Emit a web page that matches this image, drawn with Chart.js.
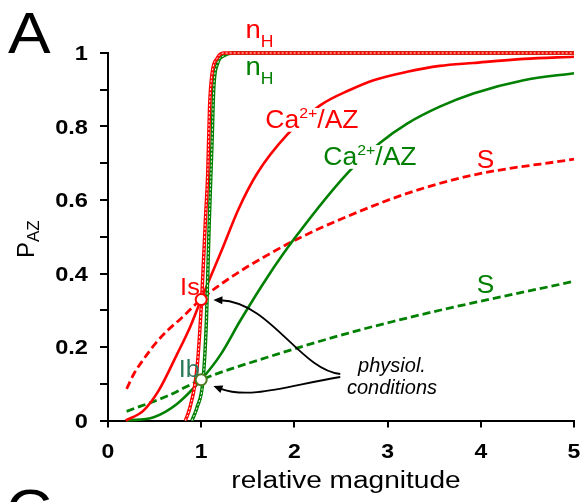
<!DOCTYPE html>
<html>
<head>
<meta charset="utf-8">
<script src="https://cdn.jsdelivr.net/npm/chart.js@4.4.0/dist/chart.umd.min.js"></script>
<style>
  html, body { margin: 0; padding: 0; background: #fff; }
  #wrap { width: 582px; height: 502px; position: relative; }
</style>
</head>
<body>
<div id="wrap"><canvas id="pazChart"></canvas></div>
<script>
// values, [relative magnitude, P_AZ]
const redNH = [[0.83, 0], [0.88, 0.036], [0.956, 0.145], [1.005, 0.33], [1.045, 0.545], [1.07, 0.672],
  [1.09, 0.854], [1.117, 0.945], [1.17, 0.985], [1.24, 1], [5, 1]];
const greenNH = [[0.9, 0], [0.956, 0.036], [1.02, 0.111], [1.056, 0.272], [1.085, 0.53], [1.117, 0.763],
  [1.134, 0.9], [1.177, 0.972], [1.24, 0.992], [1.33, 1], [5, 1]];
const redCa = [[0.19, 0], [0.38, 0.027], [0.545, 0.082], [0.74, 0.18], [0.88, 0.254], [1.0, 0.33],
  [1.22, 0.463], [1.4, 0.575], [1.6, 0.672], [1.92, 0.777], [2.28, 0.858], [2.6, 0.9], [2.85, 0.926],
  [3.21, 0.949], [3.56, 0.965], [3.92, 0.973], [4.46, 0.984], [5, 0.99]];
const greenCa = [[0.2, 0], [0.49, 0.009], [0.74, 0.045], [1.0, 0.111], [1.21, 0.18], [1.42, 0.272],
  [1.71, 0.39], [2.0, 0.495], [2.58, 0.676], [2.92, 0.756], [3.21, 0.808], [3.56, 0.854], [3.92, 0.89],
  [4.46, 0.926], [5, 0.945]];
const redS = [[0.2, 0.086], [0.28, 0.128], [0.38, 0.166], [0.51, 0.21], [0.63, 0.243], [0.78, 0.277],
  [1.0, 0.33], [1.35, 0.395], [1.71, 0.45], [2.0, 0.49], [2.49, 0.547], [3.21, 0.618], [3.92, 0.668], [5, 0.711]];
const greenS = [[0.2, 0.025], [0.63, 0.066], [1.0, 0.111], [1.71, 0.172], [2.58, 0.238], [3.1, 0.272],
  [3.56, 0.3], [4.97, 0.377]];
const isPoint = [[1.0, 0.329]];
const ibPoint = [[1.0, 0.111]];

const xTickValues = [0, 1, 2, 3, 4, 5];
const xTickLabels = ["0", "1", "2", "3", "4", "5"];
const yTickValues = [0, 0.2, 0.4, 0.6, 0.8, 1];
const yTickLabels = ["0", "0.2", "0.4", "0.6", "0.8", "1"];

const RED = "#ff0000";
const GREEN = "#008000";
const FONT = "'Liberation Sans', Arial, sans-serif";

const pts = (arr) => arr.map((p) => ({ x: p[0], y: p[1] }));

function curve(arr, color, width, dash) {
  return {
    data: pts(arr),
    borderColor: color,
    borderWidth: width,
    borderDash: dash || [],
    pointRadius: 0,
    cubicInterpolationMode: "monotone",
    fill: false,
    clip: false,
  };
}

function marker(arr, border) {
  return {
    data: pts(arr),
    showLine: false,
    pointRadius: 5.5,
    pointBackgroundColor: "#fff",
    pointBorderColor: border,
    pointBorderWidth: 2,
    clip: false,
  };
}

// text with optional horizontal stretch; parts = [{t, size, dy, style}]
function drawRich(ctx, parts, x, y, color, sx, align, knockout) {
  ctx.save();
  ctx.textBaseline = "alphabetic";
  ctx.translate(x, y);
  ctx.scale(sx || 1, 1);
  let total = 0;
  let maxSize = 0;
  parts.forEach((p) => {
    ctx.font = (p.style || "") + " " + p.size + "px " + FONT;
    total += ctx.measureText(p.t).width;
    maxSize = Math.max(maxSize, p.size);
  });
  let cx = 0;
  if (align === "center") cx = -total / 2;
  else if (align === "right") cx = -total;
  if (knockout) {
    ctx.fillStyle = "#fff";
    ctx.fillRect(cx - 2, -maxSize * 0.8, total + 4, maxSize * 0.95);
  }
  ctx.fillStyle = color;
  parts.forEach((p) => {
    ctx.font = (p.style || "") + " " + p.size + "px " + FONT;
    ctx.fillText(p.t, cx, p.dy || 0);
    cx += ctx.measureText(p.t).width;
  });
  ctx.restore();
}

const arrows = [
  [[2.492, 0.1265], [2.063, 0.1374], [1.742, 0.3224], [1.131, 0.3279]],
  [[2.492, 0.1184], [1.956, 0.0966], [1.527, 0.0558], [1.131, 0.0939]],
];

const annotations = {
  id: "annotations",
  afterDraw(chart) {
    const ctx = chart.ctx;
    const xs = chart.scales.x;
    const ys = chart.scales.y;
    const X = (v) => xs.getPixelForValue(v);
    const Y = (v) => ys.getPixelForValue(v);

    // tick labels
    xTickValues.forEach((v, i) => {
      drawRich(ctx, [{ t: xTickLabels[i], size: 20, style: "bold" }], X(v), ys.bottom + 37, "#000", 1.15, "center");
    });
    yTickValues.forEach((v, i) => {
      drawRich(ctx, [{ t: yTickLabels[i], size: 20, style: "bold" }], xs.left - 20, Y(v) + 7, "#000", 1.18, "right");
    });

    // axis titles
    drawRich(ctx, [{ t: "relative magnitude", size: 23 }], (xs.left + xs.right) / 2 + 5, ys.bottom + 67.5, "#000", 1.22, "center");
    ctx.save();
    ctx.translate(34, 258);
    ctx.rotate(-Math.PI / 2);
    drawRich(ctx, [{ t: "P", size: 24 }, { t: "AZ", size: 17, dy: 5 }], 0, 0, "#000", 1, "left");
    ctx.restore();

    // panel letters
    drawRich(ctx, [{ t: "A", size: 57 }], 8, 53, "#000", 1.12, "left");
    drawRich(ctx, [{ t: "C", size: 57 }], 6, 530, "#000", 1.12, "left");

    // curve labels
    drawRich(ctx, [{ t: "n", size: 25 }, { t: "H", size: 16, dy: 9 }], X(1.474), Y(1.042), RED, 1.1, "left");
    drawRich(ctx, [{ t: "n", size: 25 }, { t: "H", size: 16, dy: 9 }], X(1.474), Y(0.94), GREEN, 1.1, "left");
    drawRich(ctx, [{ t: "Ca", size: 25 }, { t: "2+", size: 15, dy: -10 }, { t: "/AZ", size: 25 }], X(1.688), Y(0.796), RED, 1.06, "left", true);
    drawRich(ctx, [{ t: "Ca", size: 25 }, { t: "2+", size: 15, dy: -10 }, { t: "/AZ", size: 25 }], X(2.31), Y(0.695), GREEN, 1.06, "left", true);
    drawRich(ctx, [{ t: "S", size: 25 }], X(4.05), Y(0.688), RED, 1.05, "center");
    drawRich(ctx, [{ t: "S", size: 25 }], X(4.05), Y(0.348), GREEN, 1.05, "center");
    drawRich(ctx, [{ t: "Is", size: 23 }], X(0.985), Y(0.341), RED, 1.1, "right");
    drawRich(ctx, [{ t: "Ib", size: 23 }], X(0.985), Y(0.118), "#2b7a5b", 1.1, "right");
    drawRich(ctx, [{ t: "physiol.", size: 20, style: "italic" }], 392, 372, "#000", 1, "center");
    drawRich(ctx, [{ t: "conditions", size: 20, style: "italic" }], 392, 393.5, "#000", 1, "center");

    // arrows
    ctx.save();
    ctx.strokeStyle = "#000";
    ctx.fillStyle = "#000";
    ctx.lineWidth = 1.8;
    arrows.forEach((a) => {
      const p = a.map((q) => [X(q[0]), Y(q[1])]);
      const ang = Math.atan2(p[3][1] - p[2][1], p[3][0] - p[2][0]);
      const len = 9;
      const bx = p[3][0] - Math.cos(ang) * len * 0.8;
      const by = p[3][1] - Math.sin(ang) * len * 0.8;
      ctx.beginPath();
      ctx.moveTo(p[0][0], p[0][1]);
      ctx.bezierCurveTo(p[1][0], p[1][1], p[2][0], p[2][1], bx, by);
      ctx.stroke();
      ctx.beginPath();
      ctx.moveTo(p[3][0], p[3][1]);
      ctx.lineTo(p[3][0] - Math.cos(ang) * len + Math.sin(ang) * 4, p[3][1] - Math.sin(ang) * len - Math.cos(ang) * 4);
      ctx.lineTo(p[3][0] - Math.cos(ang) * len - Math.sin(ang) * 4, p[3][1] - Math.sin(ang) * len + Math.cos(ang) * 4);
      ctx.closePath();
      ctx.fill();
    });
    ctx.restore();
  },
};

const ctx = document.getElementById("pazChart").getContext("2d");

new Chart(ctx, {
  type: "line",
  data: {
    datasets: [
      marker(isPoint, RED),
      marker(ibPoint, "#4b7b1c"),
      curve(redNH, "#fff", 1, [2, 2]),
      curve(redNH, RED, 3.5),
      curve(greenNH, "#fff", 1, [2, 2]),
      curve(greenNH, GREEN, 3.5),
      curve(redCa, RED, 2.6),
      curve(greenCa, GREEN, 2.6),
      curve(redS, RED, 2.8, [8, 4]),
      curve(greenS, GREEN, 2.8, [8, 4]),
    ],
  },
  options: {
    responsive: true,
    maintainAspectRatio: false,
    animation: false,
    layout: { padding: { left: 0, right: 8, top: 53, bottom: 0 } },
    plugins: {
      legend: { display: false },
      tooltip: { enabled: false },
    },
    scales: {
      x: {
        type: "linear",
        min: 0,
        max: 5,
        ticks: { stepSize: 1, display: false },
        grid: { drawOnChartArea: false, drawTicks: true, tickLength: 7, color: "#000", lineWidth: 2 },
        border: { display: true, color: "#000", width: 2 },
        afterFit: (scale) => { scale.height = 81.5; },
      },
      y: {
        min: 0,
        max: 1,
        ticks: { stepSize: 0.1, display: false },
        grid: { drawOnChartArea: false, drawTicks: true, tickLength: 8, color: "#000", lineWidth: 2 },
        border: { display: true, color: "#000", width: 2 },
        afterFit: (scale) => { scale.width = 108; },
      },
    },
  },
  plugins: [annotations],
});
</script>
</body>
</html>
